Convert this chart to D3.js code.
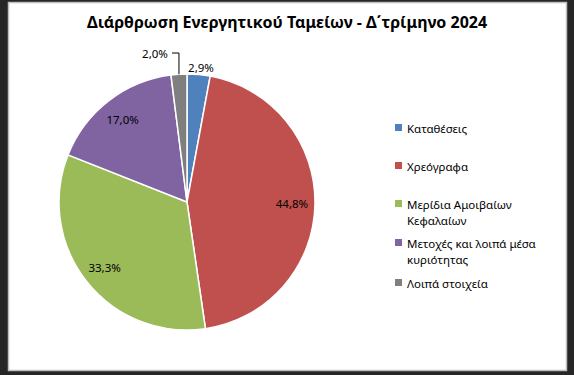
<!DOCTYPE html>
<html>
<head>
<meta charset="utf-8">
<script src="https://cdn.jsdelivr.net/npm/d3@7"></script>
<style>
  body { margin: 0; background: #262626; }
  svg { display: block; }
</style>
</head>
<body>
<div id="chart"></div>
<script>
// data
var categories = ["Καταθέσεις", "Χρεόγραφα", "Μερίδια Αμοιβαίων Κεφαλαίων", "Μετοχές και λοιπά μέσα κυριότητας", "Λοιπά στοιχεία"];
var legendLines = [["Καταθέσεις"], ["Χρεόγραφα"], ["Μερίδια Αμοιβαίων", "Κεφαλαίων"], ["Μετοχές και λοιπά μέσα", "κυριότητας"], ["Λοιπά στοιχεία"]];
var values = [2.9, 44.8, 33.3, 17.0, 2.0];
var colors = ["#4F81BD", "#C0504D", "#9BBB59", "#8064A2", "#7F7F7F"];
var title = "Διάρθρωση Ενεργητικού Ταμείων - Δ΄τρίμηνο 2024";

var W = 574, H = 375;
var font = "'Noto Sans', sans-serif";

var svg = d3.select("#chart")
  .append("svg")
    .attr("width", W)
    .attr("height", H);

// chart area frame
svg.append("rect")
  .attr("x", 8.5).attr("y", 2.5)
  .attr("width", 558).attr("height", 368)
  .attr("fill", "#ffffff")
  .attr("stroke", "#bfbfbf")
  .attr("stroke-width", 1.5);

svg.append("text")
  .attr("x", 287).attr("y", 28)
  .attr("text-anchor", "middle")
  .attr("font-family", font)
  .attr("font-weight", "bold")
  .attr("font-size", 16)
  .attr("fill", "#000")
  .text(title);

var cx = 187, cy = 202, r = 128;

var pie = d3.pie().sort(null).value(function(d) { return d; });
var arcs = pie(values);
var arc = d3.arc().innerRadius(0).outerRadius(r);
var labelArc = d3.arc().innerRadius(105).outerRadius(105);

var g = svg.append("g")
  .attr("transform", "translate(" + cx + "," + cy + ")");

g.selectAll("path.slice")
  .data(arcs)
  .enter().append("path")
    .attr("class", "slice")
    .attr("d", arc)
    .attr("fill", function(d, i) { return colors[i]; })
    .attr("stroke", "#ffffff")
    .attr("stroke-width", 1.5);

function fmt(v) { return v.toFixed(1).replace(".", ",") + "%"; }

// labels: inside for big slices, outside for the small ones
arcs.forEach(function(d, i) {
  var pos;
  if (d.value >= 10) {
    pos = labelArc.centroid(d);
  } else if (i === 0) {
    pos = [14, -135];
  } else {
    pos = [-32, -149];
  }
  g.append("text")
    .attr("x", pos[0]).attr("y", pos[1])
    .attr("text-anchor", "middle")
    .attr("dominant-baseline", "central")
    .attr("font-family", font)
    .attr("font-size", 11.5)
    .attr("fill", "#000")
    .text(fmt(d.value));
});

// leader line for the 2,0% slice
var last = arcs[4];
var mid = (last.startAngle + last.endAngle) / 2;
var ex = r * Math.sin(mid), ey = -r * Math.cos(mid);
g.append("path")
  .attr("d", d3.line()([[-15, -149], [ex, -149], [ex, ey]]))
  .attr("fill", "none")
  .attr("stroke", "#000")
  .attr("stroke-width", 1);

// legend
var legendY = [128, 166, 204, 243, 283];
var lg = svg.append("g");
legendLines.forEach(function(lines, i) {
  lg.append("rect")
    .attr("x", 395).attr("y", legendY[i] - 4)
    .attr("width", 7).attr("height", 7)
    .attr("fill", colors[i]);
  lines.forEach(function(t, j) {
    lg.append("text")
      .attr("x", 407).attr("y", legendY[i] + j * 16)
      .attr("dominant-baseline", "central")
      .attr("font-family", font)
      .attr("font-size", 11.5)
      .attr("fill", "#000")
      .text(t);
  });
});
</script>
</body>
</html>
